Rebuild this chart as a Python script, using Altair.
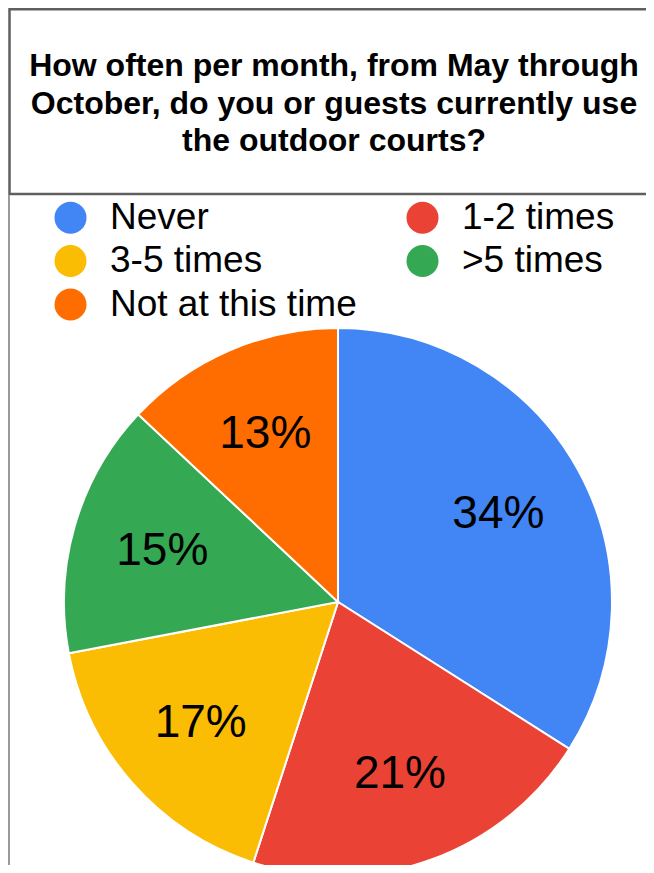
import altair as alt
import pandas as pd

categories = ["Never", "1-2 times", "3-5 times", ">5 times", "Not at this time"]
values = [34, 21, 17, 15, 13]
colors = ["#4285F4", "#EA4335", "#FBBC04", "#34A853", "#FF6D01"]
title_lines = ["How often per month, from May through",
               "October, do you or guests currently use",
               "the outdoor courts?"]

df = pd.DataFrame({
    "category": categories,
    "value": values,
    "idx": list(range(len(categories))),
    "label": [f"{v}%" for v in values],
})
one = pd.DataFrame({"a": [0]})

FONT = "Liberation Sans"
CX, CY, R = 330, 594, 274

box = alt.Chart(one).mark_rect(fill="white", stroke="#5f5f5f", strokeWidth=2.5).encode(
    x=alt.value(1.5), x2=alt.value(700), y=alt.value(1.2), y2=alt.value(186)
)
side = alt.Chart(one).mark_rule(color="#9a9a9a", strokeWidth=2).encode(
    x=alt.value(1), y=alt.value(187), y2=alt.value(900)
)
title = alt.Chart(one).mark_text(
    text=title_lines, font=FONT, fontSize=32, fontWeight="bold",
    align="center", baseline="middle", lineHeight=37.5, color="black"
).encode(x=alt.value(326), y=alt.value(58))

base = alt.Chart(df).encode(
    theta=alt.Theta("value:Q", stack=True),
    order=alt.Order("idx:Q"),
    x=alt.value(CX), y=alt.value(CY),
)
arcs = base.mark_arc(outerRadius=R, stroke="white", strokeWidth=2).encode(
    color=alt.Color(
        "category:N",
        scale=alt.Scale(domain=categories, range=colors),
        sort=categories,
        legend=alt.Legend(
            title=None, orient="none", legendX=44, legendY=191,
            columns=2, direction="horizontal", columnPadding=47, rowPadding=5.5,
            symbolType="circle", symbolSize=1024, symbolStrokeWidth=0,
            labelFont=FONT, labelFontSize=37, labelColor="black",
            labelOffset=21, labelLimit=600, padding=0,
        ),
    )
)
labels = base.mark_text(radius=183, font=FONT, fontSize=46, color="black",
                        align="center", baseline="middle").encode(text="label:N")

chart = alt.layer(box, side, title, arcs, labels).properties(
    width=638, height=857, padding=0, autosize="none", background="white"
).configure_view(stroke=None)

chart.save("out.html", embed_options={"renderer": "svg", "actions": False})
